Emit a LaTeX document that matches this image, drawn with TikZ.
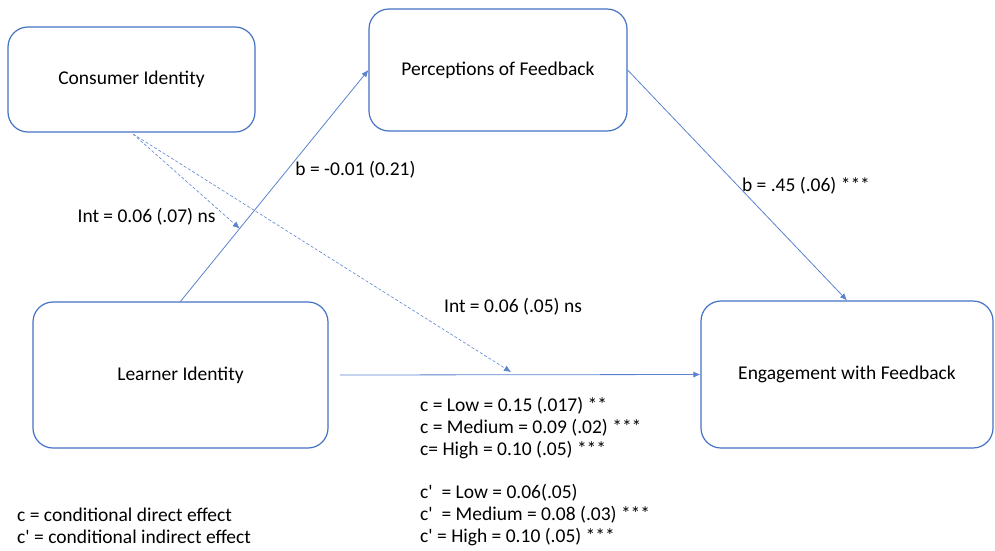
\documentclass[tikz,border=0pt]{standalone}
\usepackage{fontspec}
\setmainfont{Carlito}[Ligatures=TeXOff]
\usetikzlibrary{arrows.meta,calc}
\definecolor{obox}{HTML}{4472C4}
\definecolor{oline}{HTML}{5B82CF}
\begin{document}
\begin{tikzpicture}[x=1pt,y=-1pt,
  every node/.style={font=\fontsize{19.5}{21.8}\selectfont, text=black},
  box/.style={draw=obox, line width=1.2pt, rounded corners=20pt, align=center, inner sep=0pt},
  conn/.style={draw=oline, line width=0.8pt, -{Latex[length=7pt,width=6pt]}},
  modline/.style={draw=oline, line width=0.6pt, densely dashed, -{Latex[length=7pt,width=6pt]}},
  lbl/.style={inner sep=0pt, align=left}]
\useasboundingbox (0,0) rectangle (995,550);
\node[box, minimum width=247pt, minimum height=105pt] (C) at (131.5,79.5) {Consumer Identity};
\node[box, minimum width=258pt, minimum height=122pt] (P) at (498,70) {Perceptions of Feedback};
\node[box, minimum width=295pt, minimum height=146pt] (L) at (180.5,375) {Learner Identity};
\node[box, minimum width=292pt, minimum height=147pt] (E) at (847,374.5) {Engagement with Feedback};
\coordinate (ls) at (340,375);
\coordinate (m1) at ($(L.north)!0.315!(P.west)$);
\coordinate (m2) at (511,372);
\coordinate (cs) at (133,134);
\draw[conn] (L.north) -- (P.west);
\draw[conn] (P.east) -- (E.north);
\draw[conn] (ls) -- (E.west);
\draw[modline] (cs) -- (m1);
\draw[modline] (cs) -- (m2);
\node[lbl] (b1) at (355.5,170) {b = -0.01 (0.21)};
\node[lbl] (i1) at (146.5,217) {Int = 0.06 (.07) ns};
\node[lbl] (i2) at (513,307) {Int = 0.06 (.05) ns};
\node[lbl] (b2) at (806,186) {b = .45 (.06) ***};
\node[lbl, anchor=west] (cc) at (420,428) {c = Low = 0.15 (.017) **\\c = Medium = 0.09 (.02) ***\\c= High = 0.10 (.05) ***};
\node[lbl, anchor=west] (cp) at (420,515) {c'\ \ = Low = 0.06(.05)\\c'\ \ = Medium = 0.08 (.03) ***\\c' = High = 0.10 (.05) ***};
\node[lbl, anchor=west] (lg) at (17,525.5) {c = conditional direct effect\\c' = conditional indirect effect};
\end{tikzpicture}
\end{document}
